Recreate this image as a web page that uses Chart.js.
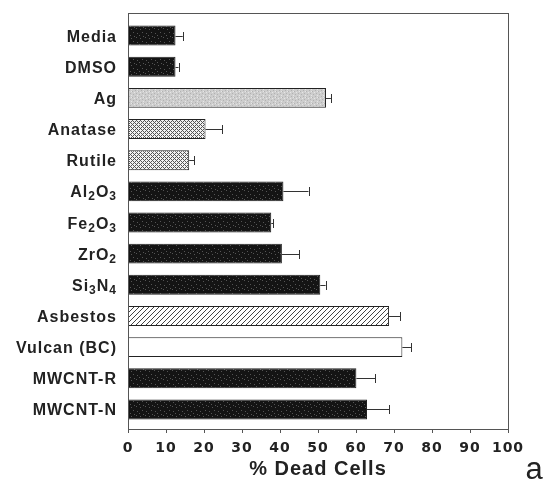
<!DOCTYPE html>
<html>
<head>
<meta charset="utf-8">
<script src="https://cdn.jsdelivr.net/npm/chart.js@4"></script>
<style>
  html, body { margin: 0; padding: 0; background: #fff; }
  #wrap { width: 545px; height: 481px; }
</style>
</head>
<body>
<div id="wrap"><canvas id="deadCells"></canvas></div>
<script>
/* data */
const categories = ['Media', 'DMSO', 'Ag', 'Anatase', 'Rutile', 'Al₂O₃', 'Fe₂O₃', 'ZrO₂', 'Si₃N₄',
    'Asbestos', 'Vulcan (BC)', 'MWCNT-R', 'MWCNT-N'];
const deadCells = [12.5, 12.5, 52.1, 20.4, 16.1, 40.9, 37.7, 40.5, 50.6, 68.7, 72.2, 60.1, 62.9];
const errors = [1.9, 0.8, 1.3, 4.4, 1.3, 6.6, 0.5, 4.6, 1.4, 2.9, 2.4, 4.9, 5.8];
const fills = ['dark', 'dark', 'silver', 'mesh', 'mesh', 'dark', 'dark', 'dark', 'dark',
    'hatch', 'white', 'dark', 'dark'];

/* patterns */
function makeTile(size, draw) {
    const c = document.createElement('canvas');
    c.width = size; c.height = size;
    const g = c.getContext('2d');
    draw(g, size);
    return g.createPattern(c, 'repeat');
}
const patterns = {
    dark: makeTile(9, function (g) {
        g.fillStyle = '#141414'; g.fillRect(0, 0, 9, 9);
        g.fillStyle = '#555';
        [[1, 1], [5, 2], [2, 6], [7, 5], [4, 8], [8, 0]].forEach(p => g.fillRect(p[0], p[1], 1, 1));
    }),
    silver: makeTile(6, function (g) {
        g.fillStyle = '#cdcdcd'; g.fillRect(0, 0, 6, 6);
        g.fillStyle = '#b2b2b2';
        [[0, 1], [3, 0], [4, 3], [1, 4]].forEach(p => g.fillRect(p[0], p[1], 1, 1));
        g.fillStyle = '#e6e6e6';
        [[2, 2], [5, 5], [5, 1]].forEach(p => g.fillRect(p[0], p[1], 1, 1));
    }),
    mesh: makeTile(4, function (g) {
        g.fillStyle = '#f2f2f2'; g.fillRect(0, 0, 4, 4);
        g.fillStyle = '#555';
        for (let x = 0; x < 4; x++) for (let y = 0; y < 4; y++)
            if ((x + y) % 4 === 0 || (x - y + 4) % 4 === 0) g.fillRect(x, y, 1, 1);
    }),
    hatch: makeTile(5, function (g) {
        g.fillStyle = '#fff'; g.fillRect(0, 0, 5, 5);
        g.fillStyle = '#444';
        for (let x = 0; x < 5; x++) for (let y = 0; y < 5; y++)
            if ((x + y) % 5 === 0) g.fillRect(x, y, 1, 1);
    }),
    white: '#ffffff'
};

const labelFont = 'bold 16px "Liberation Sans", Arial, sans-serif';
const subFont = 'bold 12px "Liberation Sans", Arial, sans-serif';

// split "Al₂O₃" into runs of normal text and subscript digits
function runs(label) {
    return label.split(/([₀-₉]+)/).filter(s => s).map(function (s) {
        const sub = /[₀-₉]/.test(s);
        const text = sub ? s.replace(/[₀-₉]/g, c => String.fromCharCode(c.charCodeAt(0) - 0x2080 + 48)) : s;
        return { text: text, sub: sub };
    });
}

/* frame, tick marks, category labels, error bars and the panel letter */
const extras = {
    id: 'extras',
    beforeDraw(chart) {
        chart.ctx.letterSpacing = '1px';
    },
    afterDatasetsDraw(chart) {
        const ctx = chart.ctx;
        const xs = chart.scales.x;
        const bars = chart.getDatasetMeta(0).data;
        ctx.save();
        ctx.strokeStyle = '#333';
        ctx.lineWidth = 1;
        bars.forEach(function (bar, i) {
            const x0 = xs.getPixelForValue(deadCells[i]);
            const x1 = xs.getPixelForValue(deadCells[i] + errors[i]);
            const y = Math.round(bar.y) + 0.5;
            ctx.beginPath();
            ctx.moveTo(x0, y); ctx.lineTo(x1, y);
            ctx.moveTo(Math.round(x1) + 0.5, y - 4.5); ctx.lineTo(Math.round(x1) + 0.5, y + 4.5);
            ctx.stroke();
        });
        ctx.restore();
    },
    afterDraw(chart) {
        const ctx = chart.ctx;
        const a = chart.chartArea;
        const xs = chart.scales.x;
        const ys = chart.scales.y;
        const top = a.top - 7, bottom = a.bottom + 4;
        ctx.save();
        ctx.strokeStyle = '#555';
        ctx.lineWidth = 1;
        ctx.strokeRect(Math.round(a.left) + 0.5, top + 0.5, Math.round(a.right - a.left), bottom - top);
        ctx.beginPath();
        xs.ticks.forEach(function (t) {
            const px = Math.round(xs.getPixelForValue(t.value)) + 0.5;
            ctx.moveTo(px, bottom); ctx.lineTo(px, bottom + 4);
        });
        ctx.stroke();

        // category labels, right aligned against the axis
        ctx.fillStyle = '#222';
        ctx.textAlign = 'left';
        ctx.textBaseline = 'alphabetic';
        ctx.letterSpacing = '1px';
        const rightEdge = a.left - 12;
        categories.forEach(function (label, i) {
            const y = ys.getPixelForValue(i) + 6;
            const parts = runs(label);
            let w = 0;
            parts.forEach(function (p) {
                ctx.font = p.sub ? subFont : labelFont;
                p.w = ctx.measureText(p.text).width;
                w += p.w;
            });
            let x = rightEdge - w + 1;
            parts.forEach(function (p) {
                ctx.font = p.sub ? subFont : labelFont;
                ctx.fillText(p.text, x, p.sub ? y + 3 : y);
                x += p.w;
            });
        });

        ctx.letterSpacing = '0px';
        ctx.font = '31px "Liberation Sans", Arial, sans-serif';
        ctx.textAlign = 'center';
        ctx.fillText('a', 534, 479);
        ctx.restore();
    }
};

Chart.defaults.font.family = '"Liberation Sans", Arial, sans-serif';
Chart.defaults.color = '#222';

new Chart(document.getElementById('deadCells'), {
    type: 'bar',
    data: {
        labels: categories,
        datasets: [{
            data: deadCells,
            backgroundColor: fills.map(f => patterns[f]),
            borderColor: '#222',
            borderWidth: 1,
            borderSkipped: false,
            barPercentage: 0.64,
            categoryPercentage: 1
        }]
    },
    options: {
        indexAxis: 'y',
        responsive: true,
        maintainAspectRatio: false,
        animation: false,
        layout: { padding: { top: 20, right: 37, left: 0, bottom: 0 } },
        plugins: { legend: { display: false }, tooltip: { enabled: false } },
        scales: {
            x: {
                min: 0,
                max: 100,
                grid: { display: false },
                border: { display: false },
                ticks: {
                    stepSize: 10, padding: 7, maxRotation: 0,
                    font: { family: '"DejaVu Sans", sans-serif', size: 14, weight: 'bold' }
                },
                title: { display: true, text: '% Dead Cells', padding: 0, font: { size: 20, weight: 'bold' } },
                afterFit(scale) { scale.height = 56; }
            },
            y: {
                grid: { display: false },
                border: { display: false },
                ticks: { display: false },
                afterFit(scale) { scale.width = 128; }
            }
        }
    },
    plugins: [extras]
});
</script>
</body>
</html>
